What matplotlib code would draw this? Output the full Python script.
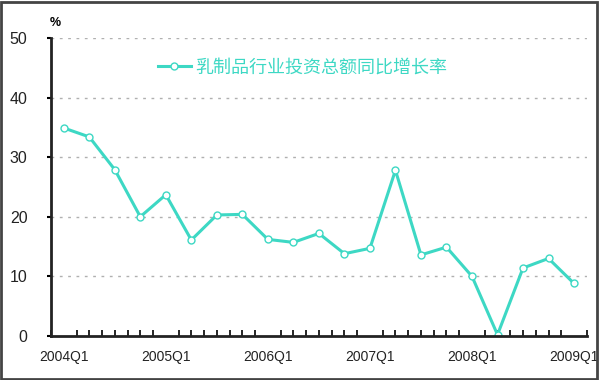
import matplotlib
matplotlib.use("Agg")
import matplotlib.pyplot as plt
from matplotlib.patches import Rectangle

plt.rcParams['font.family'] = ['Liberation Sans', 'Noto Sans CJK SC', 'DejaVu Sans']

# quarterly data, 2004Q1 .. 2009Q1
quarters = ['2004Q1', '2004Q2', '2004Q3', '2004Q4',
            '2005Q1', '2005Q2', '2005Q3', '2005Q4',
            '2006Q1', '2006Q2', '2006Q3', '2006Q4',
            '2007Q1', '2007Q2', '2007Q3', '2007Q4',
            '2008Q1', '2008Q2', '2008Q3', '2008Q4',
            '2009Q1']
growth = [34.9, 33.4, 27.9, 20.0, 23.7, 16.1, 20.3, 20.4, 16.2, 15.7,
          17.2, 13.8, 14.7, 27.8, 13.6, 14.9, 10.0, 0.2, 11.4, 13.0, 8.8]
label_quarters = ['2004Q1', '2005Q1', '2006Q1', '2007Q1', '2008Q1', '2009Q1']
series_name = '乳制品行业投资总额同比增长率'

teal = '#3dd8c4'

fig = plt.figure(figsize=(6, 3.8), dpi=100)
ax = fig.add_axes([0.085, 0.116, 0.893, 0.784])

x = list(range(len(quarters)))
ax.plot(x, growth, color=teal, linewidth=2.2, marker='o', markersize=5,
        markerfacecolor='white', markeredgecolor=teal, markeredgewidth=1,
        label=series_name)

ax.set_ylim(0, 50)
ax.set_xlim(-0.45, 20.5)
ax.set_yticks([0, 10, 20, 30, 40, 50])
for v in [10, 20, 30, 40, 50]:
    ax.axhline(v, color='#b0b0b0', linewidth=1, linestyle=(0, (2, 4)), zorder=0)

ax.set_xticks([quarters.index(q) for q in label_quarters])
ax.set_xticklabels(label_quarters, fontsize=10, color='#222222')
ax.set_xticks([i - 0.5 for i in range(len(quarters) + 1)] + x, minor=True)
ax.tick_params(axis='x', which='major', length=0, pad=10)
ax.tick_params(axis='x', which='minor', direction='in', length=4, width=1.2)
ax.tick_params(axis='y', direction='out', length=3, width=1.5, labelsize=11.5,
               pad=14, labelcolor='#222222')

for s in ['top', 'right']:
    ax.spines[s].set_visible(False)
for s in ['left', 'bottom']:
    ax.spines[s].set_linewidth(2)
    ax.spines[s].set_color('#222222')

fig.text(0.093, 0.925, '%', fontsize=9, ha='center', va='bottom', fontweight='bold')

leg = ax.legend(loc='center left', bbox_to_anchor=(0.2, 0.9), frameon=False,
                borderaxespad=0, borderpad=0, handlelength=1.8, handletextpad=0.27,
                labelcolor=teal, prop={'family': ['Noto Sans CJK SC'], 'size': 13})

fig.patches.append(Rectangle((0.002, 0.003), 0.993, 0.993, transform=fig.transFigure,
                             fill=False, edgecolor='#444444', linewidth=2))

fig.savefig('out.png', dpi=100)
